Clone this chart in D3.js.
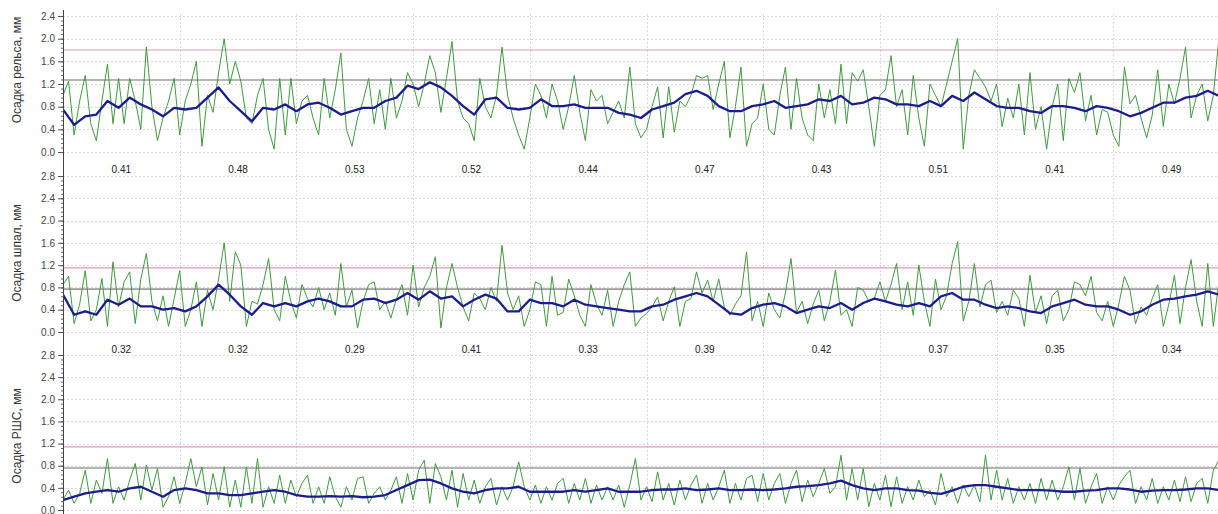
<!DOCTYPE html>
<html>
<head>
<meta charset="utf-8">
<script src="https://cdn.jsdelivr.net/npm/d3@7"></script>
<style>
body { margin: 0; background: #fff; }
svg { display: block; font-family: Arial, "Liberation Sans", sans-serif; }
</style>
</head>
<body>
<svg width="1218" height="514"></svg>
<script>
/*
DATI: UN VALORE OGNI 1/21 DI TRATTO (VERDE) E OGNI 2/21 (BLU)
*/
var titoli = ["Осадка рельса, мм", "Осадка шпал, мм", "Осадка РШС, мм"]

var tratti1 = ["0.41", "0.48", "0.53", "0.52", "0.44", "0.47", "0.43", "0.51", "0.41", "0.49"]
var tratti2 = ["0.32", "0.32", "0.29", "0.41", "0.33", "0.39", "0.42", "0.37", "0.35", "0.34"]

// soglie: [grigia, rosa]
var soglie1 = [1.27, 1.8]
var soglie2 = [0.77, 1.15]
var soglie3 = [0.76, 1.14]

var verde1 = [
	1.0,1.25,0.3,0.9,1.35,0.5,0.2,0.9,1.55,0.5,
	1.3,0.5,1.3,0.9,0.4,1.85,0.8,0.2,0.6,0.9,
	1.3,0.3,0.9,1.2,1.6,0.1,1.0,0.7,1.4,2.0,
	1.2,1.6,1.25,0.6,0.5,1.0,1.3,0.4,0.05,1.3,
	0.3,1.3,0.5,0.9,1.0,0.6,0.3,1.3,0.6,1.1,
	1.75,0.4,0.1,0.6,0.9,1.3,0.5,1.1,0.4,1.3,
	0.6,0.9,1.4,1.2,0.8,1.2,1.7,1.4,0.7,1.3,
	1.95,0.9,0.6,0.5,0.2,1.3,0.8,0.6,1.0,1.85,
	1.0,0.6,0.3,0.05,0.6,1.2,1.0,0.6,1.2,0.9,
	0.4,0.8,1.35,0.7,0.2,1.1,0.9,1.0,0.5,0.7,
	0.9,0.6,1.5,0.5,0.25,0.4,0.8,1.15,0.25,1.15,
	0.35,0.9,0.8,1.0,1.35,1.3,1.35,0.75,1.2,1.6,
	0.25,0.8,1.5,0.1,0.5,0.6,1.2,0.4,0.3,1.0,
	1.5,0.4,1.3,0.6,0.3,0.2,1.2,0.6,1.1,0.5,
	1.55,0.5,1.4,1.25,1.45,0.8,0.1,1.0,1.1,1.7,
	0.8,1.1,0.3,1.35,0.6,0.1,1.2,1.0,0.8,1.2,
	1.6,2.0,0.05,1.0,1.45,1.3,1.15,0.9,1.2,0.45,
	0.95,0.6,1.2,0.3,1.4,0.4,0.8,0.05,0.8,1.2,
	0.2,1.3,1.05,1.4,0.55,1.0,0.3,0.75,0.7,0.3,
	0.1,1.5,0.85,1.0,0.6,0.25,0.65,1.45,0.45,1.2,
	0.85,1.3,1.85,0.6,1.0,1.2,0.55,1.0,2.0,1.2
]
var blu1 = [
	0.75,0.48,0.63,0.66,0.9,0.78,0.96,0.84,0.75,0.63,
	0.78,0.75,0.78,0.96,1.14,0.9,0.72,0.54,0.78,0.75,
	0.84,0.72,0.84,0.87,0.78,0.66,0.72,0.78,0.78,0.9,
	0.96,1.17,1.11,1.23,1.14,0.99,0.81,0.66,0.93,0.96,
	0.78,0.75,0.78,0.93,0.81,0.81,0.84,0.78,0.78,0.78,
	0.69,0.66,
	0.6,0.75,0.81,0.87,1.02,1.08,0.99,0.81,0.72,0.72,
	0.81,0.84,0.9,0.78,0.81,0.84,0.93,0.9,0.99,0.84,
	0.87,0.96,0.93,0.84,0.84,0.81,0.9,0.81,0.99,0.9,
	1.05,0.93,0.81,0.78,0.78,0.72,0.69,0.81,0.81,0.78,
	0.72,0.81,0.78,0.72,0.63,0.69,0.78,0.87,0.87,0.96,
	0.99,1.08,0.99
]

var verde2 = [
	0.85,1.0,0.15,0.5,1.1,0.2,0.4,0.96,0.1,1.26,
	0.45,0.9,1.08,0.15,0.95,1.41,0.55,0.2,0.65,0.1,
	0.6,1.1,0.1,0.4,0.9,0.1,0.75,0.4,0.95,1.6,
	0.55,1.44,1.2,0.1,0.55,0.5,0.85,1.32,0.4,0.2,
	1.0,0.55,0.25,0.85,0.6,0.45,0.8,0.4,0.7,0.3,
	1.23,0.45,0.75,0.07,0.55,0.85,0.9,0.4,0.55,0.25,
	0.6,0.85,0.3,1.2,0.45,0.8,1.0,1.35,0.07,0.8,
	1.23,0.8,0.45,0.2,0.7,0.6,0.4,0.8,0.55,1.56,
	0.7,0.4,0.65,0.1,0.4,0.9,0.85,0.1,1.0,0.3,
	0.35,0.95,0.65,0.3,0.1,0.85,0.5,0.3,0.75,0.1,
	0.55,0.85,1.08,0.1,
	0.25,0.33,0.45,0.63,0.2,0.55,0.81,0.1,0.55,0.6,
	1.08,0.7,0.93,0.55,0.95,0.45,0.3,0.5,0.65,1.44,
	0.2,0.55,0.1,0.7,0.4,0.25,0.7,1.32,0.35,0.55,
	0.15,0.5,0.75,0.2,0.55,1.11,0.3,0.4,0.1,0.8,
	0.75,0.55,0.6,0.9,0.55,0.85,1.23,0.4,0.9,0.3,
	1.2,0.55,0.1,0.95,0.4,0.65,1.23,1.62,0.2,0.55,
	1.23,0.45,0.85,0.93,0.35,0.55,0.3,0.75,0.6,0.1,
	1.02,0.35,0.65,0.15,0.65,0.75,0.2,0.4,0.9,0.85,
	0.65,1.0,0.35,0.2,0.55,0.1,0.5,1.0,0.75,0.15,
	0.45,0.3,0.6,0.85,0.1,0.5,1.02,0.15,0.8,1.3,
	0.55,0.1,1.23,0.1,0.9,1.9
]
var blu2 = [
	0.67,0.31,0.37,0.31,0.58,0.49,0.6,0.46,0.46,0.4,
	0.43,0.37,0.46,0.64,0.85,0.67,0.46,0.31,0.52,0.46,
	0.52,0.46,0.55,0.6,0.55,0.46,0.46,0.58,0.6,0.52,
	0.58,0.7,0.58,0.73,0.6,0.64,0.46,0.58,0.67,0.6,
	0.37,0.37,0.58,0.52,0.52,0.46,0.58,0.49,0.46,0.43,
	0.4,0.37,
	0.37,0.46,0.49,0.58,0.64,0.7,0.64,0.49,0.34,0.31,
	0.43,0.49,0.52,0.46,0.34,0.4,0.46,0.43,0.52,0.4,
	0.52,0.6,0.55,0.49,0.46,0.52,0.46,0.64,0.7,0.58,
	0.58,0.49,0.43,0.46,0.43,0.37,0.34,0.46,0.52,0.58,
	0.49,0.46,0.46,0.4,0.31,0.37,0.49,0.58,0.6,0.64,
	0.67,0.73,0.67
]

var verde3 = [
	0.18,0.36,0.12,0.3,0.72,0.12,0.54,0.3,0.93,0.12,
	0.42,0.18,0.54,0.84,0.18,0.81,0.36,0.75,0.05,0.24,
	0.6,0.12,0.48,0.93,0.42,0.78,0.09,0.66,0.18,0.78,
	0.05,0.54,0.05,0.78,0.12,0.93,0.05,0.42,0.12,0.63,
	0.12,0.54,0.24,0.48,0.63,0.12,0.42,0.12,0.6,0.24,
	0.05,0.42,0.18,0.57,0.6,0.12,0.3,0.42,0.18,0.36,
	0.6,0.12,0.66,0.18,0.72,0.9,0.12,0.84,0.6,0.18,
	0.72,0.05,0.66,0.18,0.54,0.12,0.42,0.57,0.09,0.42,
	0.18,0.42,0.87,0.42,0.18,0.45,0.12,0.42,0.18,0.48,
	0.57,0.12,0.48,0.18,0.57,0.12,0.45,0.18,0.42,0.18,
	0.45,0.05,0.45,0.93,
	0.18,0.42,0.15,0.69,0.18,0.48,0.09,0.54,0.18,0.45,
	0.63,0.12,0.48,0.18,0.42,0.72,0.12,0.48,0.18,0.57,
	0.63,0.15,0.66,0.18,0.48,0.66,0.12,0.48,0.72,0.15,
	0.54,0.24,0.48,0.75,0.3,0.42,0.99,0.18,0.75,0.18,
	0.75,0.06,0.48,0.18,0.63,0.06,0.6,0.12,0.42,0.18,
	0.54,0.24,0.36,0.09,0.66,0.24,0.42,0.12,0.45,0.24,
	0.45,0.15,0.99,0.18,0.72,0.18,0.57,0.12,0.42,0.18,
	0.48,0.12,0.57,0.18,0.54,0.18,0.42,0.78,0.18,0.75,
	0.12,0.42,0.66,0.12,0.42,0.18,0.45,0.6,0.72,0.12,
	0.42,0.18,0.57,0.12,0.42,0.18,0.54,0.15,0.6,0.15,
	0.48,0.57,0.12,0.72,0.9,0.4
]
var blu3 = [
	0.18,0.24,0.3,0.33,0.36,0.33,0.39,0.42,0.33,0.24,
	0.36,0.39,0.36,0.3,0.3,0.27,0.27,0.3,0.33,0.36,
	0.33,0.27,0.24,0.24,0.25,0.24,0.25,0.23,0.24,0.27,
	0.36,0.45,0.54,0.55,0.48,0.39,0.33,0.3,0.36,0.39,
	0.39,0.42,0.33,0.33,0.33,0.33,0.36,0.33,0.36,0.39,
	0.33,0.33,
	0.33,0.36,0.37,0.37,0.39,0.36,0.37,0.39,0.36,0.36,
	0.37,0.36,0.37,0.39,0.42,0.43,0.45,0.48,0.53,0.45,
	0.39,0.36,0.39,0.39,0.36,0.35,0.31,0.29,0.35,0.42,
	0.45,0.45,0.42,0.39,0.36,0.36,0.36,0.35,0.33,0.33,
	0.35,0.36,0.39,0.39,0.37,0.33,0.35,0.36,0.36,0.37,
	0.39,0.39,0.36
]

/*
IMPOSTAZIONI DEI PANNELLI
*/
var svg = d3.select("svg")
var larghezza = 1218
var altezza = 514
var sinistra = 63

var x = d3.scaleLinear().domain([0, 10]).range([sinistra, 1230])

var pannelli = [
	{titolo: titoli[0], verde: verde1, blu: blu1, soglie: soglie1, tratti: tratti1, max: 2.4, basso: 152, alto: 16, centro: 70},
	{titolo: titoli[1], verde: verde2, blu: blu2, soglie: soglie2, tratti: tratti2, max: 2.8, basso: 332, alto: 176, centro: 253},
	{titolo: titoli[2], verde: verde3, blu: blu3, soglie: soglie3, tratti: null, max: 2.8, basso: 510, alto: 355, centro: 436}
]

/*
LINEE GUIDA VERTICALI
*/
function disegnaVerticali(){
	for (let i = 1; i < 10; i++) {
		svg.append("line")
			.attr("x1", Math.round(x(i)) + 0.5)
			.attr("x2", Math.round(x(i)) + 0.5)
			.attr("y1", 14)
			.attr("y2", altezza)
			.style("stroke", "#d8d8d8")
			.style("stroke-dasharray", "2, 2")
	}
}

/*
DISEGNA UN PANNELLO
*/
function disegnaPannello(p, k){
	var y = d3.scaleLinear().domain([0, p.max]).range([p.basso, p.alto])
	var tacche = d3.range(0, p.max + 0.001, 0.4)
	var g = svg.append("g").attr("class", "pannello" + k)

	// griglia orizzontale
	g.selectAll(".griglia")
		.data(tacche)
		.enter().append("line")
		.attr("class", "griglia")
		.attr("x1", sinistra)
		.attr("x2", larghezza)
		.attr("y1", function(d){ return Math.round(y(d)) + 0.5 })
		.attr("y2", function(d){ return Math.round(y(d)) + 0.5 })
		.style("stroke", "#d8d8d8")
		.style("stroke-dasharray", "2, 2")

	// soglie
	var colori = ["#a09aa0", "#e09ab8"]
	g.selectAll(".soglia")
		.data(p.soglie)
		.enter().append("line")
		.attr("class", "soglia")
		.attr("x1", sinistra)
		.attr("x2", larghezza)
		.attr("y1", function(d){ return y(d) })
		.attr("y2", function(d){ return y(d) })
		.style("stroke", function(d, i){ return colori[i] })
		.attr("stroke-width", function(d, i){ return i == 0 ? 1.6 : 1.2 })

	svg.append("clipPath").attr("id", "clip" + k)
		.append("rect")
		.attr("x", sinistra + 1)
		.attr("y", p.alto - 14)
		.attr("width", larghezza - sinistra)
		.attr("height", p.basso - p.alto + 15)

	var lineaVerde = d3.line()
		.x(function(d, i){ return x(i / 21) })
		.y(function(d){ return y(d) })
	var lineaBlu = d3.line()
		.x(function(d, i){ return x(i * 2 / 21) })
		.y(function(d){ return y(d) })

	var dati = g.append("g").attr("clip-path", "url(#clip" + k + ")")
	dati.append("path")
		.datum(p.verde)
		.attr("d", lineaVerde)
		.attr("fill", "none")
		.attr("stroke", "#3f9a3f")
		.attr("stroke-width", 1)
		.attr("stroke-linejoin", "round")
	dati.append("path")
		.datum(p.blu)
		.attr("d", lineaBlu)
		.attr("fill", "none")
		.attr("stroke", "#1c1c8c")
		.attr("stroke-width", 2.3)
		.attr("stroke-linejoin", "round")

	// asse con tacche piccole
	var minori = d3.range(0, p.max + 0.001, 0.08)
	g.append("g")
		.attr("transform", "translate(" + sinistra + ",0)")
		.call(d3.axisLeft(y).tickValues(minori).tickSize(2).tickFormat(""))
		.call(function(a){ a.select(".domain").remove() })
		.selectAll("line").attr("stroke", "#666")
	var asse = g.append("g")
		.attr("transform", "translate(" + sinistra + ",0)")
		.call(d3.axisLeft(y).tickValues(tacche).tickSize(5).tickFormat(d3.format(".1f")))
	asse.select(".domain").remove()
	asse.selectAll("line").attr("stroke", "#555")
	asse.selectAll("text")
		.attr("fill", "#444")
		.style("font-size", "10px")
		.style("font-family", "Arial, 'Liberation Sans', sans-serif")

	// titolo asse
	g.append("text")
		.attr("transform", "translate(21," + p.centro + ") rotate(-90)")
		.attr("text-anchor", "middle")
		.attr("fill", "#333")
		.style("font-size", "12px")
		.text(p.titolo)

	// valori dei tratti sotto il pannello
	if (p.tratti != null){
		g.selectAll(".tratto")
			.data(p.tratti)
			.enter().append("text")
			.attr("class", "tratto")
			.attr("x", function(d, i){ return x(i + 0.5) })
			.attr("y", p.basso + 21)
			.attr("text-anchor", "middle")
			.attr("fill", "#222")
			.style("font-size", "10px")
			.text(function(d){ return d })
	}
}

disegnaVerticali()
pannelli.forEach(disegnaPannello)

// asse verticale unico
svg.append("line")
	.attr("x1", sinistra + 0.5)
	.attr("x2", sinistra + 0.5)
	.attr("y1", 10)
	.attr("y2", altezza)
	.style("stroke", "#444")
</script>
</body>
</html>
